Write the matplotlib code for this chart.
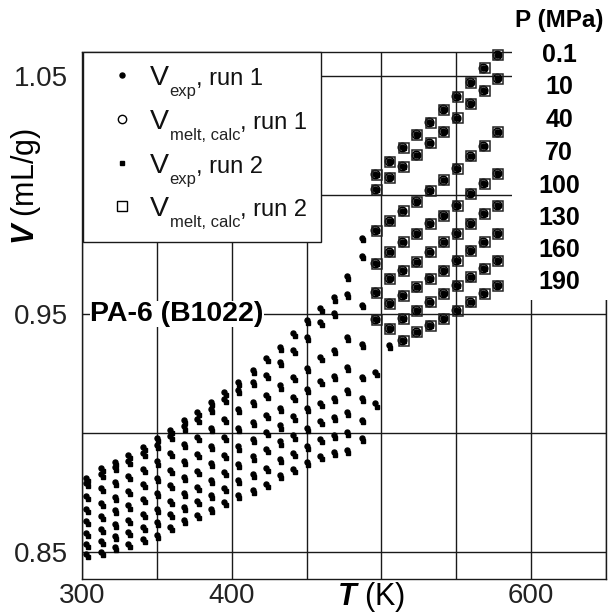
"""PVT isobars of PA-6 (B1022): specific volume vs temperature, two runs,
with the Tait-fitted melt volumes laid over the melt-state points."""
import matplotlib
matplotlib.use("Agg")
import matplotlib.pyplot as plt
from matplotlib.lines import Line2D
from matplotlib.patches import Rectangle

plt.rcParams["font.family"] = ["Liberation Sans", "DejaVu Sans"]
plt.rcParams["mathtext.fontset"] = "custom"
plt.rcParams["mathtext.rm"] = "Liberation Sans"
plt.rcParams["mathtext.it"] = "Liberation Sans:italic"
plt.rcParams["mathtext.bf"] = "Liberation Sans:bold"
plt.rcParams["mathtext.bfit"] = "Liberation Sans:italic:bold"

PRESSURES = [0.1, 10, 40, 70, 100, 130, 160, 190]   # MPa

# isotherm temperatures (K)
T_RUN1 = [303, 313, 322, 331, 341, 350, 359, 368, 377, 386, 395, 404, 414, 423, 432, 441,
          450, 459, 468, 477, 487, 496, 505, 514, 523, 532, 541, 550, 559, 568, 577]
T_RUN2 = [304, 314, 323, 332, 342, 351, 360, 369, 378, 387, 396, 405, 415, 424, 433, 442,
          451, 460, 469, 478, 488, 497, 506, 515, 524, 533, 542, 551, 560, 569, 578]

# run 1, V (mL/g)
V1_P0_1 = [.8810, .8852, .8880, .8908, .8943, .8978, .9013, .9055, .9088, .9130, .9172, .9214,
           .9265, .9315, .9361, .9420, .9475, .9525, .9570, .9660, .9820, 1.0090, 1.0143, 1.0200,
           1.0255, 1.0305, 1.0360, 1.0415, 1.0475, 1.0535, 1.0590]
V1_P10 = [.8789, .8829, .8857, .8884, .8918, .8952, .8987, .9028, .9060, .9101, .9142, .9183,
          .9215, .9245, .9300, .9350, .9405, .9465, .9504, .9584, .9744, 1.0025, 1.0075, 1.0120,
          1.0170, 1.0220, 1.0268, 1.0325, 1.0385, 1.0440, 1.0492]
V1_P40 = [.8734, .8768, .8794, .8819, .8850, .8881, .8915, .8954, .8985, .9022, .9061, .9100,
          .9130, .9160, .9200, .9235, .9275, .9320, .9349, .9405, .9538, .9853, .9893, .9935,
          .9975, 1.0022, 1.0065, 1.0113, 1.0165, 1.0208, 1.0266]
V1_P70 = [.8680, .8708, .8733, .8755, .8785, .8812, .8846, .8882, .8911, .8946, .8983, .9020,
          .9048, .9075, .9105, .9150, .9187, .9220, .9240, .9279, .9373, .9713, .9762, .9804,
          .9839, .9881, .9916, .9958, 1.0007, 1.0049, 1.0091]
V1_P100 = [.8630, .8652, .8676, .8696, .8723, .8747, .8781, .8815, .8842, .8875, .8909, .8944,
           .8975, .9005, .9032, .9070, .9105, .9125, .9146, .9181, .9237, .9594, .9650, .9685,
           .9720, .9762, .9804, .9839, .9881, .9923, .9958]
V1_P130 = [.8579, .8596, .8619, .8636, .8661, .8682, .8716, .8748, .8773, .8803, .8835, .8869,
           .8902, .8935, .8965, .8990, .9020, .9050, .9069, .9090, .9146, .9480, .9545, .9580,
           .9615, .9650, .9685, .9727, .9769, .9804, .9839]
V1_P160 = [.8535, .8547, .8569, .8584, .8607, .8626, .8659, .8689, .8713, .8740, .8771, .8802,
           .8828, .8855, .8890, .8915, .8945, .8975, .8992, .9006, .9055, .9258, .9440, .9482,
           .9517, .9552, .9587, .9622, .9657, .9692, .9727]
V1_P190 = [.8494, .8501, .8522, .8536, .8557, .8573, .8606, .8634, .8657, .8682, .8711, .8741,
           .8763, .8785, .8825, .8850, .8880, .8905, .8921, .8929, .8978, .9125, .9370, .9391,
           .9426, .9454, .9482, .9517, .9552, .9587, .9622]

# run 2, V (mL/g)
V2_P0_1 = [.8797, .8839, .8867, .8895, .8930, .8965, .9000, .9042, .9075, .9117, .9159, .9201,
           .9252, .9302, .9348, .9407, .9462, .9512, .9557, .9647, .9810, 1.0086, 1.0140, 1.0197,
           1.0252, 1.0302, 1.0357, 1.0412, 1.0472, 1.0532, 1.0587]
V2_P10 = [.8776, .8816, .8844, .8871, .8905, .8939, .8974, .9015, .9047, .9088, .9129, .9170,
          .9202, .9232, .9287, .9337, .9392, .9452, .9491, .9571, .9734, 1.0021, 1.0072, 1.0117,
          1.0167, 1.0217, 1.0265, 1.0322, 1.0382, 1.0437, 1.0489]
V2_P40 = [.8721, .8755, .8781, .8806, .8837, .8868, .8902, .8941, .8972, .9009, .9048, .9087,
          .9117, .9147, .9187, .9222, .9262, .9307, .9336, .9392, .9528, .9849, .9890, .9932,
          .9972, 1.0019, 1.0062, 1.0110, 1.0162, 1.0205, 1.0263]
V2_P70 = [.8667, .8695, .8720, .8742, .8772, .8799, .8833, .8869, .8898, .8933, .8970, .9007,
          .9035, .9062, .9092, .9137, .9174, .9207, .9227, .9266, .9363, .9709, .9759, .9801,
          .9836, .9878, .9913, .9955, 1.0004, 1.0046, 1.0088]
V2_P100 = [.8617, .8639, .8663, .8683, .8710, .8734, .8768, .8802, .8829, .8862, .8896, .8931,
           .8962, .8992, .9019, .9057, .9092, .9112, .9133, .9168, .9227, .9590, .9647, .9682,
           .9717, .9759, .9801, .9836, .9878, .9920, .9955]
V2_P130 = [.8566, .8583, .8606, .8623, .8648, .8669, .8703, .8735, .8760, .8790, .8822, .8856,
           .8889, .8922, .8952, .8977, .9007, .9037, .9056, .9077, .9136, .9476, .9542, .9577,
           .9612, .9647, .9682, .9724, .9766, .9801, .9836]
V2_P160 = [.8522, .8534, .8556, .8571, .8594, .8613, .8646, .8676, .8700, .8727, .8758, .8789,
           .8815, .8842, .8877, .8902, .8932, .8962, .8979, .8993, .9045, .9243, .9437, .9479,
           .9514, .9549, .9584, .9619, .9654, .9689, .9724]
V2_P190 = [.8481, .8488, .8509, .8523, .8544, .8560, .8593, .8621, .8644, .8669, .8698, .8728,
           .8750, .8772, .8812, .8837, .8867, .8892, .8908, .8916, .8968, .9110, .9358, .9388,
           .9423, .9451, .9479, .9514, .9549, .9584, .9619]

# first isotherm index in the melt, per isobar (calc volumes exist from there on)
MELT_FROM = [21, 21, 21, 21, 21, 21, 22, 23]

RUN1 = [V1_P0_1, V1_P10, V1_P40, V1_P70, V1_P100, V1_P130, V1_P160, V1_P190]
RUN2 = [V2_P0_1, V2_P10, V2_P40, V2_P70, V2_P100, V2_P130, V2_P160, V2_P190]

W, H = 608, 616
fig = plt.figure(figsize=(W / 100, H / 100), dpi=100)
ax = fig.add_axes([82 / W, 37 / H, 524 / W, 527 / H])


def fig_xy(px, py):
    """pixel position (origin top-left) -> figure fraction"""
    return px / W, 1 - py / H


for k in range(len(PRESSURES)):
    m = MELT_FROM[k]
    ax.plot(T_RUN2, RUN2[k], ls="none", marker="s", ms=3.2, color="k", zorder=4, clip_on=False)
    ax.plot(T_RUN1, RUN1[k], ls="none", marker="o", ms=3.6, color="k", zorder=4, clip_on=False)
    ax.plot(T_RUN1[m:], RUN1[k][m:], ls="none", marker="o", ms=6.0, mfc="none",
            mec="k", mew=1.2, zorder=5, clip_on=False)
    ax.plot(T_RUN2[m:], RUN2[k][m:], ls="none", marker="s", ms=7.5, mfc="none",
            mec="#222222", mew=1.1, zorder=5, clip_on=False)

ax.set_xlim(300, 650)
ax.set_ylim(0.8387, 1.0601)
ax.set_xticks([300, 350, 400, 450, 500, 550, 600, 650])
ax.set_xticklabels(["300", "", "400", "", "", "", "600", ""])
ax.set_yticks([0.85, 0.90, 0.95, 1.00, 1.05])
ax.set_yticklabels(["0.85", "", "0.95", "", "1.05"])
ax.tick_params(length=0, labelsize=20, labelcolor="#222222")
ax.tick_params(axis="y", pad=10)
ax.tick_params(axis="x", pad=3)
ax.grid(True, color="#1a1a1a", lw=1.0)
ax.set_axisbelow(True)
for s in ax.spines.values():
    s.set_color("#1a1a1a")
    s.set_linewidth(1.0)

fig.text(*fig_xy(371, 597), r"$\mathbfit{T}$ (K)", fontsize=22, ha="center", va="center")
fig.text(*fig_xy(26, 186), r"$\mathbfit{V}$ (mL/g)", fontsize=22, rotation=90,
         ha="center", va="center")

ax.text(305.5, 0.95, "PA-6 (B1022)", fontsize=20.5, fontweight="bold", ha="left", va="center",
        zorder=6, bbox=dict(facecolor="white", edgecolor="none", pad=0))

# legend, built by hand so the V can be larger than the rest of the entry
fig.add_artist(Rectangle(fig_xy(83, 242), 238 / W, 190 / H, transform=fig.transFigure,
                         facecolor="white", edgecolor="#1a1a1a", lw=1.0))
leg_markers = [dict(marker="o", ms=3.6, color="k"),
               dict(marker="o", ms=6.0, mfc="none", mec="k", mew=1.0),
               dict(marker="s", ms=3.4, color="k"),
               dict(marker="s", ms=6.5, mfc="none", mec="k", mew=1.0)]
leg_subs = ["exp", "melt, calc", "exp", "melt, calc"]
leg_runs = [1, 1, 2, 2]
leg_base = [85, 129, 173, 216]
renderer = fig.canvas.get_renderer()
for mk, sub, run, yb in zip(leg_markers, leg_subs, leg_runs, leg_base):
    fig.add_artist(Line2D([122 / W], [1 - (yb - 10) / H], ls="none",
                          transform=fig.transFigure, **mk))
    t = fig.text(*fig_xy(150, yb), "V", fontsize=20.5, va="baseline", color="#111111")
    x = t.get_window_extent(renderer).x1
    t = fig.text(*fig_xy(x + 0.5, yb + 11), sub, fontsize=12, va="baseline", color="#222222")
    x = t.get_window_extent(renderer).x1
    fig.text(*fig_xy(x, yb), f", run {run}", fontsize=17, va="baseline", color="#111111")

# white panel on the right holding the isobar labels
fig.add_artist(Rectangle(fig_xy(512, 300), 1 - 512 / W, 300 / H,
                         transform=fig.transFigure, facecolor="white", edgecolor="none"))
fig.text(*fig_xy(559, 20), "P (MPa)", fontsize=17.5, fontweight="bold",
         ha="center", va="center")
label_y = [55, 87, 120, 153, 186, 218, 250, 282]
for p, yy in zip(PRESSURES, label_y):
    fig.text(*fig_xy(559, yy), f"{p:g}", fontsize=18, fontweight="bold",
             ha="center", va="center")

fig.savefig("out.png", dpi=100)
